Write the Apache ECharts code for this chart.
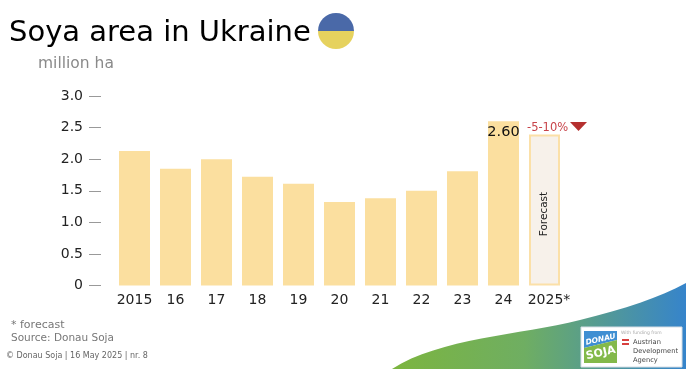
<!DOCTYPE html>
<html>
<head>
<meta charset="utf-8">
<title>Soya area in Ukraine</title>
<script src="https://cdn.jsdelivr.net/npm/echarts@6/dist/echarts.min.js"></script>
<style>
html,body{margin:0;padding:0;background:#fff;}
#main{width:686px;height:369px;}
</style>
</head>
<body>
<div id="main"></div>
<script>
var categories=['2015','16','17','18','19','20','21','22','23','24','2025*'];
var areaValues=[2.13,1.85,2.0,1.72,1.61,1.32,1.38,1.5,1.81,2.6,2.39];
var tickLabels={'0':'0','0.5':'0.5','1':'1.0','1.5':'1.5','2':'2.0','2.5':'2.5','3':'3.0'};

var font='"DejaVu Sans",sans-serif';

//底部弧形背景
echarts.graphic.registerShape('swoosh',echarts.graphic.extendShape({
	shape:{},
	buildPath:function(ctx){
		ctx.moveTo(392,369);
		ctx.bezierCurveTo(440,338,520,335,580,320);
		ctx.bezierCurveTo(625,309,660,297,686,283);
		ctx.lineTo(686,369);
		ctx.closePath();
	}
}));

var myChart=echarts.init(document.getElementById('main'),null,{renderer:'canvas'});

//柱子数据，最后两根单独设置样式
var barData=areaValues.map(function(v,i){
	if(categories[i]=='24'){
		return {value:v,label:{show:true,position:'insideTop',distance:3,formatter:'2.60',color:'#111',fontSize:14.5,fontFamily:font}};
	}
	if(categories[i]=='2025*'){
		return {value:v,
			itemStyle:{color:'#f7f1ea',borderColor:'#fbe0a8',borderWidth:2},
			label:{show:true,position:'inside',rotate:90,offset:[-4,0],formatter:'Forecast',color:'#222',fontSize:10.5,fontFamily:font}};
	}
	return v;
});

//2025* 的标签略微右移
var axisData=categories.map(function(c){
	if(c=='2025*'){
		return {value:c,textStyle:{padding:[0,0,0,9]}};
	}
	return c;
});

var option={
	animation:false,
	backgroundColor:'#fff',
	grid:{left:114,right:121,top:96,bottom:83.5},
	xAxis:{
		type:'category',
		data:axisData,
		axisLine:{show:false},
		axisTick:{show:false},
		axisLabel:{color:'#222',fontSize:14,fontFamily:font,margin:8,interval:0}
	},
	yAxis:{
		type:'value',
		min:0,
		max:3,
		interval:0.5,
		offset:13,
		splitLine:{show:false},
		axisLine:{show:false},
		axisTick:{show:true,length:12,lineStyle:{color:'#999',width:1}},
		axisLabel:{color:'#222',fontSize:14,fontFamily:font,margin:18,formatter:function(v){return tickLabels[String(v)];}}
	},
	series:[{
		type:'bar',
		data:barData,
		barWidth:31,
		itemStyle:{color:'#fbdf9f'},
		silent:true
	}],
	graphic:[
		{type:'swoosh',z:0,silent:true,
			style:{fill:new echarts.graphic.LinearGradient(0,0,1,0,[{offset:0,color:'#7cb53f'},{offset:0.45,color:'#6fae62'},{offset:1,color:'#3684cb'}])}},
		//标题
		{type:'text',left:9,top:19,style:{text:'Soya area in Ukraine',fill:'#000',font:'29px '+font}},
		{type:'text',left:38,top:56,style:{text:'million ha',fill:'#8a8a8a',font:'15.5px '+font}},
		//国旗
		{type:'sector',shape:{cx:336,cy:31,r:18,startAngle:Math.PI,endAngle:Math.PI*2},style:{fill:'#4a69a8'}},
		{type:'sector',shape:{cx:336,cy:31,r:18,startAngle:0,endAngle:Math.PI},style:{fill:'#e6d25e'}},
		//预测注释
		{type:'text',left:527,top:122,style:{text:'-5-10%',fill:'#c8444a',font:'11.5px '+font}},
		{type:'polygon',shape:{points:[[570,122],[587,122],[578.5,131]]},style:{fill:'#b5302f'}},
		//脚注
		{type:'text',left:11,top:320,style:{text:'* forecast',fill:'#777',font:'11px '+font}},
		{type:'text',left:11,top:333,style:{text:'Source: Donau Soja',fill:'#777',font:'10.5px '+font}},
		{type:'text',left:6,top:352,style:{text:'\u00a9 Donau Soja | 16 May 2025 | nr. 8',fill:'#666',font:'8px '+font}},
		//logo
		{type:'rect',z:5,shape:{x:581,y:327,width:101,height:40},style:{fill:'#fff',stroke:'#d5dde5',lineWidth:1}},
		{type:'polygon',z:6,shape:{points:[[584,331],[617,331],[617,340],[584,348]]},style:{fill:'#3f8fd2'}},
		{type:'polygon',z:6,shape:{points:[[584,348],[617,340],[617,363],[584,363]]},style:{fill:'#83b94a'}},
		{type:'text',z:7,x:585,y:339,rotation:0.22,style:{text:'DONAU',fill:'#fff',font:'italic bold 7.5px '+font}},
		{type:'text',z:7,x:585,y:351,rotation:0.22,style:{text:'SOJA',fill:'#fff',font:'bold 11px '+font}},
		{type:'text',z:7,left:621,top:330,style:{text:'With funding from',fill:'#aaa',font:'4.5px '+font}},
		{type:'rect',z:7,shape:{x:622,y:339,width:7,height:2},style:{fill:'#d8403f'}},
		{type:'rect',z:7,shape:{x:622,y:343,width:7,height:2},style:{fill:'#d8403f'}},
		{type:'text',z:7,left:633,top:339,style:{text:'Austrian',fill:'#444',font:'6.7px '+font}},
		{type:'text',z:7,left:633,top:348,style:{text:'Development',fill:'#444',font:'6.7px '+font}},
		{type:'text',z:7,left:633,top:357,style:{text:'Agency',fill:'#444',font:'6.7px '+font}}
	]
};
myChart.setOption(option,true);
</script>
</body>
</html>
